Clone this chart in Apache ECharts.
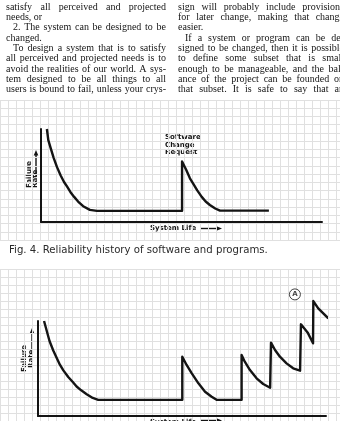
<!DOCTYPE html>
<html>
<head>
<meta charset="utf-8">
<script src="https://cdn.jsdelivr.net/npm/echarts@6/dist/echarts.min.js"></script>
<style>
html, body { margin: 0; padding: 0; background: #fff; }
#container { width: 340px; height: 421px; }
</style>
</head>
<body>
<div id="container"></div>
<script>
// body text, two columns (9 lines each)
let leftText = [
    "satisfy all perceived and projected",
    "needs, or",
    "2. The system can be designed to be",
    "changed.",
    "To design a system that is to satisfy",
    "all perceived and projected needs is to",
    "avoid the realities of our world. A sys-",
    "tem designed to be all things to all",
    "users is bound to fail, unless your crys-"
];
let rightText = [
    "sign will probably include provisions",
    "for later change, making that change",
    "easier.",
    "If a system or program can be de-",
    "signed to be changed, then it is possible",
    "to define some subset that is small",
    "enough to be manageable, and the bal-",
    "ance of the project can be founded on",
    "that subset. It is safe to say that an"
];
let leftIndent = [2, 4];
let leftParaEnd = [1, 3];
let rightIndent = [3];
let rightParaEnd = [2];

let caption = "Fig. 4. Reliability history of software and programs.";
let changeLabel = "Software\nChange\nRequest";

// upper plot: failure rate over system life, one change request
let life1 = [2.1, 2.6, 3.5, 4.5, 5.7, 7, 8.2, 9.3, 10.5, 11.8, 13.2, 15, 17.4, 19.9,
             50.2, 50.2, 51.7, 53, 54.1, 55.6, 57.2, 58.6, 60.1, 62, 63.7, 81.1];
let rate1 = [100, 88, 79, 69, 59, 50, 43, 38, 32, 27, 22, 17, 13, 12,
             12, 65, 56, 47, 41.6, 34, 27, 22, 18.3, 14.5, 12.2, 12.2];

// lower plot: repeated changes
let life2 = [2.1, 3, 4, 5.3, 6.5, 7.6, 8.8, 10.5, 12, 13.4, 15, 16.9, 19, 20.9,
             50.1, 50.1, 51.6, 53.4, 55.7, 58, 60.3, 62,
             70.7, 70.7, 71.8, 73.6, 75.9, 78.2, 80.6,
             80.9, 82.3, 84, 86.3, 88.6, 91,
             91.3, 93.6, 95.5,
             95.6, 97.3, 100.8];
let rate2 = [100, 90, 79, 69, 61, 54, 48, 41, 36, 31, 27, 23, 19, 17,
             17, 62.4, 53.7, 44.9, 34.4, 25.6, 20.3, 17,
             17, 64.2, 57.2, 48.4, 39.7, 33.7, 29.8,
             77.2, 69.5, 62.4, 55.4, 50.2, 47.7,
             96.5, 88, 76.5,
             121, 113.3, 102.8];

// point (A)
let markA = [89.2, 128];
let arrowA = [[89.2, 121], [89.2, 93.7]];

let ink = '#141414';
let paper = '#e0e0e0';

let ctx = document.createElement('canvas').getContext('2d');
let bodyFont = '10px "Liberation Serif"';

function setLine(text, x0, y, width, justify) {
    ctx.font = bodyFont;
    let words = text.split(' ');
    let widths = words.map((w) => ctx.measureText(w).width);
    let total = widths.reduce((a, b) => a + b, 0);
    let gap = ctx.measureText(' ').width;
    if (justify && words.length > 1) {
        gap = (width - total) / (words.length - 1);
    }
    let out = [];
    let x = x0;
    words.forEach((w, i) => {
        out.push({
            type: 'text', x: x, y: y, silent: true,
            style: {text: w, font: bodyFont, fill: ink, align: 'left', verticalAlign: 'middle'}
        });
        x += widths[i] + gap;
    });
    return out;
}

function column(lines, x0, width, indents, ends) {
    let out = [];
    lines.forEach((t, i) => {
        let ind = indents.includes(i) ? 7 : 0;
        let justify = !ends.includes(i);
        out = out.concat(setLine(t, x0 + ind, 7 + i * 10.35, width - ind, justify));
    });
    return out;
}

// caption is set wide: fit it to the printed width
ctx.font = '10px "DejaVu Sans"';
let capSize = 10 * 259 / ctx.measureText(caption).width;
let capFont = capSize.toFixed(2) + 'px "DejaVu Sans"';

function arrowUp(x, y1, y2) {
    return [
        {type: 'line', shape: {x1: x, y1: y1, x2: x, y2: y2 + 4}, style: {stroke: ink, lineWidth: 1.4}},
        {type: 'polygon', shape: {points: [[x - 2.3, y2 + 5.5], [x + 2.3, y2 + 5.5], [x, y2]]}, style: {fill: ink}}
    ];
}

function arrowRight(x1, x2, y) {
    return [
        {type: 'line', shape: {x1: x1, y1: y, x2: x2 - 4, y2: y}, style: {stroke: ink, lineWidth: 1.4}},
        {type: 'polygon', shape: {points: [[x2 - 5.5, y - 2.3], [x2 - 5.5, y + 2.3], [x2, y]]}, style: {fill: ink}}
    ];
}

let labelFont = 'bold 7px "DejaVu Sans"';
function vLabel(text, x, y) {
    return {
        type: 'text', x: x, y: y, rotation: Math.PI / 2, silent: true,
        style: {text: text, font: labelFont, fill: ink, align: 'left', verticalAlign: 'middle'}
    };
}
function hLabel(text, x, y) {
    return {
        type: 'text', x: x, y: y, silent: true,
        style: {text: text, font: labelFont, fill: ink, align: 'left', verticalAlign: 'middle'}
    };
}

let graphics = []
    .concat(column(leftText, 6, 160, leftIndent, leftParaEnd))
    .concat(column(rightText, 178, 166, rightIndent, rightParaEnd))
    .concat([
        {
            type: 'text', x: 9, y: 250, silent: true,
            style: {text: caption, font: capFont, fill: '#2a2a2a', align: 'left', verticalAlign: 'middle'}
        },
        {
            type: 'text', x: 165, y: 133.5, silent: true,
            style: {text: changeLabel, font: labelFont, lineHeight: 7.6, fill: ink, align: 'left', verticalAlign: 'top'}
        },
        vLabel('Failure', 29.5, 188),
        vLabel('Rate', 35.5, 188),
        vLabel('Failure', 24.5, 372),
        vLabel('Rate', 31, 368),
        hLabel('System Life', 150, 228.5),
        hLabel('System Life', 150, 422)
    ])
    .concat(arrowUp(36, 176, 150))
    .concat(arrowUp(32, 354, 328))
    .concat(arrowRight(201, 222, 228.5))
    .concat(arrowRight(201, 222, 420.5));

function paperAxis(max) {
    return {
        type: 'value', min: 0, max: max, interval: 8,
        axisLine: {show: false}, axisTick: {show: false}, axisLabel: {show: false},
        splitLine: {show: true, lineStyle: {color: paper, width: 1}}
    };
}
function plotAxis() {
    return {
        type: 'value', min: 0, max: 100,
        axisLine: {show: true, lineStyle: {color: ink, width: 2}},
        axisTick: {show: false}, axisLabel: {show: false}, splitLine: {show: false}
    };
}

let chart = echarts.init(document.getElementById('container'));
chart.setOption({
    animation: false,
    backgroundColor: '#fff',
    grid: [
        {left: 0, top: 100, width: 340, height: 140},
        {left: 0, top: 269, width: 340, height: 152},
        {left: 41, top: 129, width: 281, height: 93},
        {left: 38, top: 321, width: 288, height: 95}
    ],
    xAxis: [
        Object.assign(paperAxis(340), {gridIndex: 0}),
        Object.assign(paperAxis(340), {gridIndex: 1}),
        Object.assign(plotAxis(), {gridIndex: 2}),
        Object.assign(plotAxis(), {gridIndex: 3})
    ],
    yAxis: [
        Object.assign(paperAxis(136), {gridIndex: 0}),
        Object.assign(paperAxis(152), {gridIndex: 1}),
        Object.assign(plotAxis(), {gridIndex: 2}),
        Object.assign(plotAxis(), {gridIndex: 3})
    ],
    series: [
        {
            type: 'line', xAxisIndex: 2, yAxisIndex: 2, clip: false,
            symbol: 'none', silent: true,
            lineStyle: {color: ink, width: 2.4, join: 'round'},
            data: life1.map((x, i) => [x, rate1[i]])
        },
        {
            type: 'line', xAxisIndex: 3, yAxisIndex: 3, clip: false,
            symbol: 'none', silent: true,
            lineStyle: {color: ink, width: 2.4, join: 'round'},
            data: life2.map((x, i) => [x, rate2[i]]),
            markLine: {
                silent: true,
                symbol: ['none', 'arrow'], symbolSize: 6,
                label: {show: false},
                lineStyle: {color: ink, width: 1.1, type: 'solid'},
                data: [[{coord: arrowA[0]}, {coord: arrowA[1]}]]
            }
        },
        {
            type: 'scatter', xAxisIndex: 3, yAxisIndex: 3, clip: false, silent: true,
            symbol: 'circle', symbolSize: 11,
            itemStyle: {color: '#fff', borderColor: ink, borderWidth: 1},
            label: {show: true, position: 'inside', formatter: 'A', fontSize: 7, fontWeight: 'bold', color: ink, fontFamily: 'DejaVu Sans'},
            data: [markA]
        }
    ],
    graphic: graphics
});
</script>
</body>
</html>
